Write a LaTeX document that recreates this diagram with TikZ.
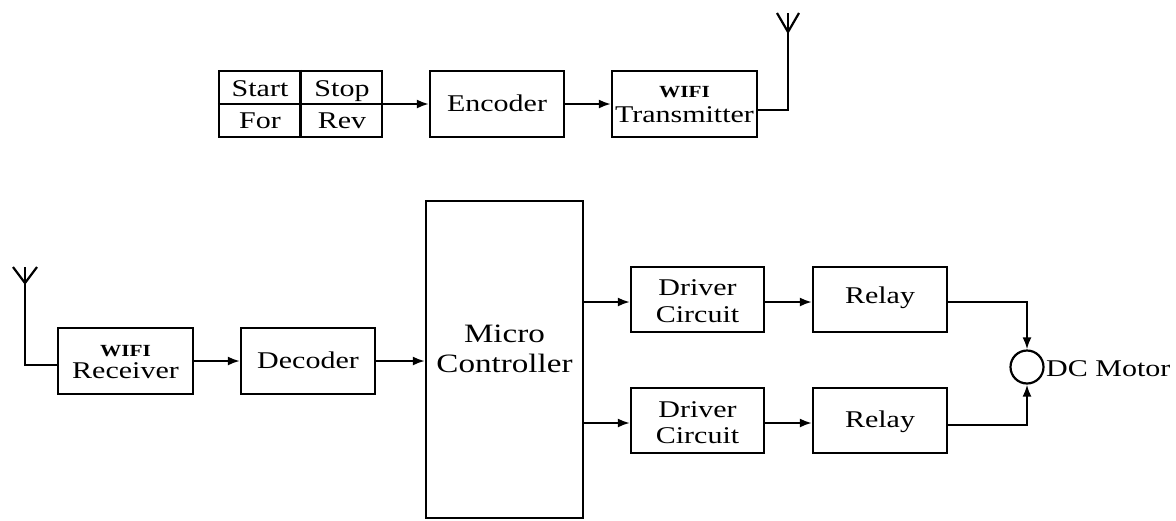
\documentclass[tikz,border=0pt]{standalone}
\usepackage{fontspec}
\setmainfont[FakeStretch=1.25]{Liberation Serif}
\usetikzlibrary{arrows.meta}
\tikzset{
  blk/.style={draw, line width=2.2pt, inner sep=0pt, rectangle},
  txt/.style={inner sep=0pt, anchor=base, font=\fontsize{24}{28}\selectfont},
  big/.style={inner sep=0pt, anchor=base, font=\fontsize{26.5}{30}\selectfont},
  wifi/.style={inner sep=0pt, anchor=base, font=\fontsize{17}{20}\selectfont\bfseries},
  wire/.style={line width=2.2pt},
  arr/.style={line width=2.2pt, -{Latex[length=12pt,width=9pt]}},
}
\begin{document}
\begin{tikzpicture}[x=1pt,y=-1pt]
\useasboundingbox (0,0) rectangle (1176,520);
% top row
\node[blk, minimum width=163pt, minimum height=66pt] (keys) at (300.5,104) {};
\draw[wire] (keys.north) -- (keys.south);
\draw[wire] (keys.west) -- (keys.east);
\node[txt] (kstart) at (260,96) {Start};
\node[txt] (kstop) at (342,96) {Stop};
\node[txt] (kfor) at (260,128) {For};
\node[txt] (krev) at (342,128) {Rev};
\node[blk, minimum width=134pt, minimum height=66pt] (enc) at (497,104) {};
\node[txt] (enct) at (497,111) {Encoder};
\node[blk, minimum width=145pt, minimum height=66pt] (tx) at (684.5,104) {};
\node[wifi] (txw) at (684.5,97) {WIFI};
\node[txt] (txt) at (684.5,122) {Transmitter};
\coordinate (txa) at (788,13);
\draw[arr] (keys.east) -- (enc.west);
\draw[arr] (enc.east) -- (tx.west);
\draw[wire] ([yshift=-6pt]tx.east) -| (txa);
\draw[wire, line join=miter] (777,13) -- (788,32) -- (799,13);
% bottom row
\node[blk, minimum width=135pt, minimum height=66pt] (rx) at (125.5,361) {};
\node[wifi] (rxw) at (125.5,356) {WIFI};
\node[txt] (rxt) at (125.5,378) {Receiver};
\coordinate (rxa) at (25,267);
\draw[wire] (rxa) |- ([yshift=-4pt]rx.west);
\draw[wire, line join=miter] (13,267) -- (25,283) -- (37,267);
\node[blk, minimum width=134pt, minimum height=66pt] (dec) at (308,361) {};
\node[txt] (dect) at (308,368) {Decoder};
\node[blk, minimum width=157pt, minimum height=317pt] (mc) at (504.5,359.5) {};
\node[big] (mct1) at (504.5,342) {Micro};
\node[big] (mct2) at (504.5,372) {Controller};
\node[blk, minimum width=133pt, minimum height=65pt] (drv1) at (697.5,299.5) {};
\node[txt] (drv1a) at (697.5,295) {Driver};
\node[txt] (drv1b) at (697.5,322) {Circuit};
\node[blk, minimum width=133pt, minimum height=65pt] (drv2) at (697.5,420.5) {};
\node[txt] (drv2a) at (697.5,417) {Driver};
\node[txt] (drv2b) at (697.5,443) {Circuit};
\node[blk, minimum width=134pt, minimum height=65pt] (rl1) at (880,299.5) {};
\node[txt] (rl1t) at (880,303) {Relay};
\node[blk, minimum width=134pt, minimum height=65pt] (rl2) at (880,420.5) {};
\node[txt] (rl2t) at (880,427) {Relay};
\node[draw, circle, line width=2.2pt, minimum size=33pt, inner sep=0pt] (mot) at (1027,367) {};
\node[txt, anchor=base west] (mott) at (1046,376) {DC Motor};
\draw[arr] (rx.east) -- (dec.west);
\draw[arr] (dec.east) -- (mc.west |- dec.east);
\draw[arr] (mc.east |- 0,302) -- (drv1.west |- 0,302);
\draw[arr] (mc.east |- 0,423) -- (drv2.west |- 0,423);
\draw[arr] (drv1.east |- 0,302) -- (rl1.west |- 0,302);
\draw[arr] (drv2.east |- 0,423) -- (rl2.west |- 0,423);
\draw[arr] (rl1.east |- 0,302) -| (mot.north);
\draw[arr] (rl2.east |- 0,425) -| (mot.south);
\end{tikzpicture}
\end{document}
